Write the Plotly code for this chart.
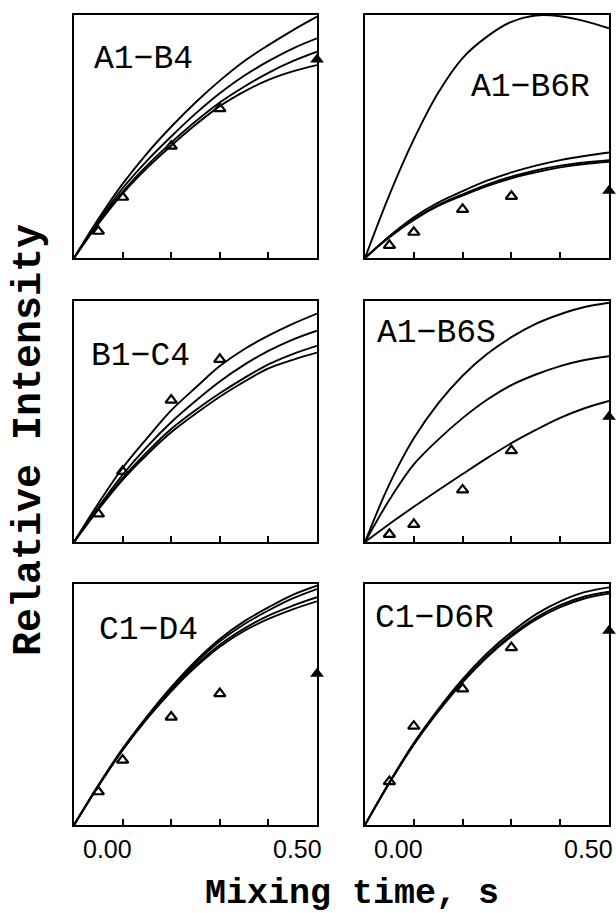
import plotly.graph_objects as go
from plotly.subplots import make_subplots

# mixing-time grid for the computed curves (s)
t_grid = [0.0, 0.05, 0.10, 0.15, 0.20, 0.25, 0.30, 0.35, 0.40, 0.45, 0.50]
# experimental mixing times
t_open = [0.05, 0.10, 0.20, 0.30]
t_filled = [0.50]

panel_names = ["A1\u2212B4", "A1\u2212B6R", "B1\u2212C4", "A1\u2212B6S", "C1\u2212D4", "C1\u2212D6R"]

# --- A1-B4 ---
a1b4_open = [0.11, 0.25, 0.46, 0.615]
a1b4_filled = [0.817]
a1b4_curves = [
    [0, 0.160, 0.305, 0.430, 0.540, 0.640, 0.730, 0.810, 0.876, 0.937, 0.993],
    [0, 0.150, 0.287, 0.400, 0.500, 0.594, 0.678, 0.750, 0.810, 0.862, 0.904],
    [0, 0.145, 0.272, 0.380, 0.475, 0.562, 0.640, 0.705, 0.762, 0.810, 0.849],
    [0, 0.140, 0.265, 0.370, 0.462, 0.548, 0.625, 0.685, 0.733, 0.768, 0.794],
]
# --- A1-B6R ---
a1b6r_open = [0.052, 0.106, 0.20, 0.254]
a1b6r_filled = [0.277]
a1b6r_curves = [
    [0, 0.260, 0.488, 0.680, 0.823, 0.911, 0.972, 0.998, 0.995, 0.975, 0.945],
    [0, 0.090, 0.168, 0.228, 0.275, 0.318, 0.352, 0.380, 0.403, 0.420, 0.434],
    [0, 0.087, 0.160, 0.218, 0.262, 0.302, 0.335, 0.360, 0.380, 0.393, 0.402],
    [0, 0.085, 0.157, 0.214, 0.257, 0.296, 0.328, 0.353, 0.373, 0.387, 0.396],
]
# --- B1-C4 ---
b1c4_open = [0.117, 0.293, 0.589, 0.758]
b1c4_filled = [1.01]
b1c4_curves = [
    [0, 0.160, 0.307, 0.430, 0.546, 0.640, 0.730, 0.800, 0.856, 0.905, 0.948],
    [0, 0.145, 0.279, 0.395, 0.497, 0.585, 0.666, 0.735, 0.793, 0.840, 0.877],
    [0, 0.138, 0.265, 0.373, 0.469, 0.547, 0.617, 0.680, 0.737, 0.780, 0.814],
    [0, 0.134, 0.258, 0.362, 0.455, 0.532, 0.603, 0.665, 0.720, 0.756, 0.786],
]
# --- A1-B6S ---
a1b6s_open = [0.032, 0.073, 0.216, 0.379]
a1b6s_filled = [0.52]
a1b6s_curves = [
    [0, 0.240, 0.430, 0.575, 0.690, 0.780, 0.850, 0.905, 0.945, 0.975, 0.993],
    [0, 0.175, 0.322, 0.425, 0.514, 0.590, 0.651, 0.695, 0.730, 0.755, 0.771],
    [0, 0.075, 0.146, 0.215, 0.282, 0.348, 0.410, 0.465, 0.515, 0.555, 0.585],
]
# --- C1-D4 ---
c1d4_open = [0.138, 0.269, 0.448, 0.545]
c1d4_filled = [0.628]
c1d4_curves = [
    [0, 0.165, 0.317, 0.450, 0.572, 0.680, 0.772, 0.845, 0.903, 0.955, 0.993],
    [0, 0.163, 0.314, 0.446, 0.566, 0.672, 0.762, 0.833, 0.890, 0.940, 0.979],
    [0, 0.162, 0.312, 0.443, 0.560, 0.662, 0.748, 0.815, 0.869, 0.910, 0.945],
    [0, 0.161, 0.310, 0.440, 0.555, 0.655, 0.740, 0.805, 0.855, 0.895, 0.928],
]
# --- C1-D6R ---
c1d6r_open = [0.18, 0.41, 0.565, 0.736]
c1d6r_filled = [0.806]
c1d6r_curves = [
    [0, 0.177, 0.340, 0.480, 0.605, 0.712, 0.800, 0.874, 0.928, 0.966, 0.986],
    [0, 0.175, 0.336, 0.474, 0.597, 0.702, 0.789, 0.860, 0.912, 0.948, 0.968],
    [0, 0.174, 0.333, 0.470, 0.592, 0.696, 0.782, 0.852, 0.904, 0.940, 0.960],
]

panels = [
    (a1b4_curves, a1b4_open, a1b4_filled),
    (a1b6r_curves, a1b6r_open, a1b6r_filled),
    (b1c4_curves, b1c4_open, b1c4_filled),
    (a1b6s_curves, a1b6s_open, a1b6s_filled),
    (c1d4_curves, c1d4_open, c1d4_filled),
    (c1d6r_curves, c1d6r_open, c1d6r_filled),
]

x_ticks = [0.1, 0.2, 0.3, 0.4]
x_ticklabels = ["0.00", "0.50"]
x_title = "Mixing time, s"
y_title = "Relative Intensity"

W, H = 616, 913
col_px = [(74, 317), (365, 609)]
row_px = [(15, 258), (301, 542), (584, 825)]
label_pos = [(0.284, 0.815), (0.68, 0.70), (0.272, 0.768),
             (0.295, 0.867), (0.305, 0.809), (0.283, 0.855)]

fig = make_subplots(rows=3, cols=2)
mono = "Liberation Mono"
annotations = []
for i, (curves, y_open, y_fill) in enumerate(panels):
    r, c = i // 2 + 1, i % 2 + 1
    for cv in curves:
        fig.add_trace(go.Scatter(x=t_grid, y=cv, mode="lines", line_shape="spline",
                                 line=dict(color="black", width=1.9), showlegend=False,
                                 hoverinfo="skip"), row=r, col=c)
    fig.add_trace(go.Scatter(x=t_open, y=y_open, mode="markers", cliponaxis=False,
                             marker=dict(symbol="triangle-up-open", size=10, color="black",
                                         line=dict(color="black", width=2.2)),
                             showlegend=False), row=r, col=c)
    fig.add_trace(go.Scatter(x=t_filled, y=y_fill, mode="markers", cliponaxis=False,
                             marker=dict(symbol="triangle-up", size=12, color="black"),
                             showlegend=False), row=r, col=c)
    n = "" if i == 0 else str(i + 1)
    x0, x1 = col_px[c - 1]
    y0, y1 = row_px[r - 1]
    fig.layout["xaxis" + n].update(domain=[x0 / W, x1 / W], range=[0, 0.5],
                                   showline=True, mirror=True, linecolor="black", linewidth=2,
                                   ticks="inside", tickvals=x_ticks, ticklen=6, tickwidth=2,
                                   tickcolor="black", showticklabels=False, showgrid=False,
                                   zeroline=False)
    fig.layout["yaxis" + n].update(domain=[1 - y1 / H, 1 - y0 / H], range=[0, 1],
                                   showline=True, mirror=True, linecolor="black", linewidth=2,
                                   ticks="", showticklabels=False, showgrid=False,
                                   zeroline=False)
    lx, ly = label_pos[i]
    annotations.append(dict(text=panel_names[i], xref="x%s domain" % n, yref="y%s domain" % n,
                            x=lx, y=ly, showarrow=False, xanchor="center", yanchor="middle",
                            font=dict(family=mono, size=33, color="black")))
    if r == 3:
        for fx, lab in zip([0.136, 0.918], x_ticklabels):
            annotations.append(dict(text=lab, xref="x%s domain" % n, yref="paper",
                                    x=fx, y=1 - 849 / H, showarrow=False,
                                    xanchor="center", yanchor="middle",
                                    font=dict(family="Liberation Sans", size=25, color="black")))

annotations.append(dict(text="<b>%s</b>" % y_title, xref="paper", yref="paper",
                        x=29 / W, y=1 - 440 / H, textangle=-90, showarrow=False,
                        xanchor="center", yanchor="middle",
                        font=dict(family=mono, size=40, color="black")))
annotations.append(dict(text="<b>%s</b>" % x_title, xref="paper", yref="paper",
                        x=352 / W, y=1 - 894 / H, showarrow=False,
                        xanchor="center", yanchor="middle",
                        font=dict(family=mono, size=35, color="black")))

fig.update_layout(width=W, height=H, margin=dict(l=0, r=0, t=0, b=0),
                  paper_bgcolor="white", plot_bgcolor="white",
                  annotations=annotations, showlegend=False)
fig.write_html("out.html")
